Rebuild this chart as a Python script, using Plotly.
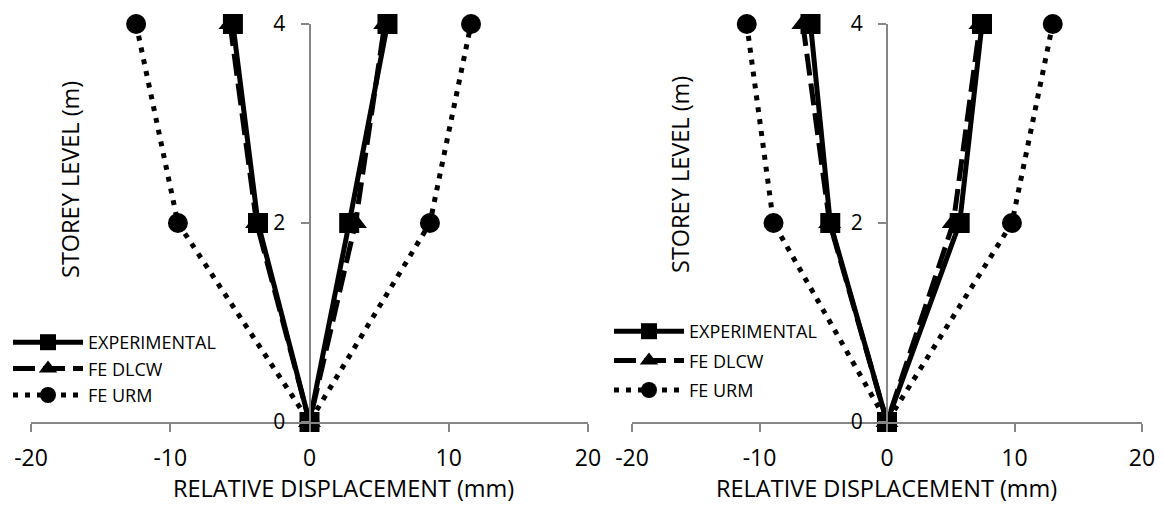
import plotly.graph_objects as go

# storey levels (m) walked left branch -> origin -> right branch
levels = [4, 2, 0, 2, 4]

# left chart, relative displacement (mm)
exp_a = [-5.5, -3.7, 0, 2.85, 5.6]
dlcw_a = [-5.7, -3.8, 0, 3.3, 5.4]
urm_a = [-12.45, -9.45, 0, 8.65, 11.6]

# right chart
exp_b = [-6.0, -4.45, 0, 5.7, 7.45]
dlcw_b = [-6.6, -4.5, 0, 5.2, 7.3]
urm_b = [-11.0, -8.9, 0, 9.8, 13.0]

x_ticks = [-20, -10, 0, 10, 20]
x_labels = ["-20", "-10", "0", "10", "20"]
y_ticks = [0, 2, 4]

FONT = "Open Sans"
AXIS_GREY = "#868686"
PAGE_W, PAGE_H = 1164, 506
BODY = 8  # default body margin of the html page
W, H = PAGE_W - BODY, PAGE_H - BODY


def px(x):
    # page pixel -> paper x
    return (x - BODY) / W


def py(y):
    # page pixel -> paper y
    return 1 - (y - BODY) / H


left_dom = [px(31), px(588)]
right_dom = [px(632), px(1142)]
y_dom = [py(422), py(24)]

fig = go.Figure()


def add_series(xref, yref, legend, tag, urm, dlcw, exp):
    # URM drawn first so the experimental squares sit on top, legendrank keeps the legend order
    fig.add_trace(go.Scatter(x=urm, y=levels, xaxis=xref, yaxis=yref, legend=legend,
                             legendgroup=tag + "urm", legendrank=3,
                             name="FE URM", mode="lines+markers", cliponaxis=False,
                             line=dict(color="black", width=5, dash="5px,7px"),
                             marker=dict(symbol="circle", size=20, color="black")))
    fig.add_trace(go.Scatter(x=dlcw, y=levels, xaxis=xref, yaxis=yref, legend=legend,
                             legendgroup=tag + "dlcw", legendrank=2,
                             name="FE DLCW", mode="lines+markers", cliponaxis=False,
                             line=dict(color="black", width=5, dash="22px,8px"),
                             marker=dict(symbol="triangle-up", size=20, color="black")))
    fig.add_trace(go.Scatter(x=exp, y=levels, xaxis=xref, yaxis=yref, legend=legend,
                             legendgroup=tag + "exp", legendrank=1,
                             name="EXPERIMENTAL", mode="lines+markers", cliponaxis=False,
                             line=dict(color="black", width=5),
                             marker=dict(symbol="square", size=20, color="black")))


add_series("x", "y", "legend", "a", urm_a, dlcw_a, exp_a)
add_series("x2", "y2", "legend2", "b", urm_b, dlcw_b, exp_b)

xaxis_common = dict(range=[-20, 20], tickvals=x_ticks, ticktext=x_labels, showgrid=False,
                    zeroline=False, automargin=False, ticklabeloverflow="allow",
                    showline=True, linecolor=AXIS_GREY, linewidth=2, ticks="outside",
                    ticklen=8, tickwidth=2, tickcolor=AXIS_GREY, ticklabelstandoff=6,
                    tickfont=dict(family=FONT, size=23, color="black"))
yaxis_common = dict(range=[0, 4], tickvals=y_ticks, showgrid=False, zeroline=False,
                    automargin=False, ticklabeloverflow="allow",
                    showline=True, linecolor=AXIS_GREY, linewidth=2, ticks="outside",
                    ticklen=8, tickwidth=2, tickcolor=AXIS_GREY, ticklabelstandoff=11,
                    tickfont=dict(family=FONT, size=21, color="black"), domain=y_dom)

legend_common = dict(xanchor="left", yanchor="top", traceorder="grouped",
                     bgcolor="rgba(0,0,0,0)", itemwidth=70,
                     font=dict(family=FONT, size=18, color="black"))

fig.update_layout(
    width=W, height=H,
    margin=dict(l=0, r=0, t=0, b=0, autoexpand=False),
    paper_bgcolor="white", plot_bgcolor="white",
    showlegend=True,
    xaxis=dict(domain=left_dom, anchor="y", **xaxis_common),
    yaxis=dict(anchor="free", position=px(309.5), **yaxis_common),
    xaxis2=dict(domain=right_dom, anchor="y2", **xaxis_common),
    yaxis2=dict(anchor="free", position=px(887), **yaxis_common),
    legend=dict(x=px(8), y=py(324), tracegroupgap=0, **legend_common),
    legend2=dict(x=px(609), y=py(313), tracegroupgap=3, **legend_common),
)

titles = [
    ("RELATIVE DISPLACEMENT (mm)", 343, 488, 0),
    ("RELATIVE DISPLACEMENT (mm)", 886, 488, 0),
    ("STOREY LEVEL (m)", 70, 180, -90),
    ("STOREY LEVEL (m)", 680, 175, -90),
]
for text, tx, ty, ang in titles:
    fig.add_annotation(text=text, x=px(tx), y=py(ty), xref="paper", yref="paper",
                       showarrow=False, textangle=ang, xanchor="center", yanchor="middle",
                       font=dict(family=FONT, size=23.5, color="black"))

fig.write_html("out.html")
